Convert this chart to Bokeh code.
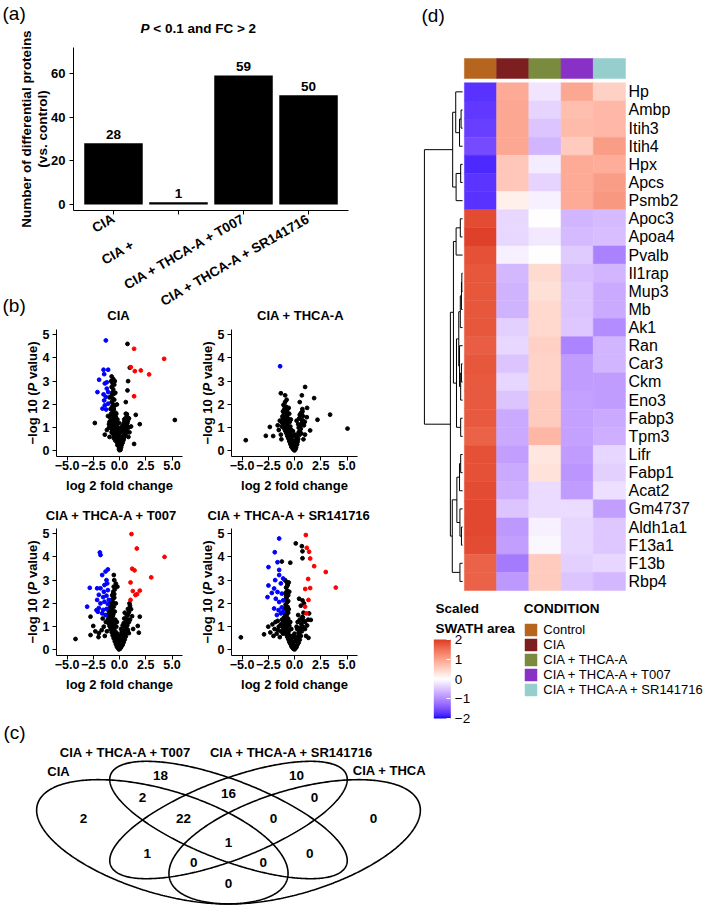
import math
import numpy as np
from bokeh.plotting import figure
from bokeh.models import (Range1d, FixedTicker, Label, LinearColorMapper, ColorBar, Legend, LegendItem,
                          ColumnDataSource, LinearAxis, Grid)
from bokeh.transform import transform
from bokeh.core.properties import value
from bokeh.embed import file_html
from bokeh.resources import INLINE

FONT = "Liberation Sans"

# ---------------- data: panel (a) ----------------
bar_categories = ["CIA", "CIA +", "CIA + THCA-A + T007", "CIA + THCA-A + SR141716"]
bar_counts = [28, 1, 59, 50]

# ---------------- data: panel (b) volcano plots (log2 FC, -log10 P) ----------------
v1_black = [(-0.75,3.2),(-0.6,3.1),(-0.8,3.0),(-0.65,2.9),(-0.5,2.85),(-0.75,2.75),(-0.6,2.65),(-0.7,2.5),(-0.55,2.45),
            (-0.8,2.35),(-0.65,2.25),(-0.5,2.2),(-0.75,2.1),(-0.6,2.0),(-0.45,1.95),(-0.7,1.9),(-0.85,1.8),(-0.55,1.8),
            (-0.65,1.7),(-0.4,1.65),(-0.8,1.6),(-0.5,1.55),(-0.6,1.5),(-0.9,1.45),(-0.35,1.45),(-0.7,1.4),(-0.45,1.35),
            (-0.55,1.3),(-0.95,1.25),(-0.3,1.25),(-0.65,1.2),(-0.4,1.15),(-0.8,1.1),(-0.5,1.05),(-0.25,1.05),(-1.0,1.0),
            (-0.6,0.95),(-0.35,0.95),(-0.5,0.85),(-0.2,0.85),(-0.75,0.8),(-0.35,0.75),(-0.15,0.7),(-0.55,0.7),(-0.45,0.6),
            (-0.25,0.6),(-0.05,0.55),(-0.35,0.5),(-0.15,0.45),(0.0,0.4),(-0.25,0.38),(-0.1,0.3),(0.05,0.25),(-0.2,0.25),
            (-0.05,0.18),(0.05,0.12),(-0.05,0.08),(0.0,0.03),(0.1,0.05),(0.15,0.15),(0.2,0.25),(0.3,0.35),(0.25,0.45),
            (0.4,0.5),(0.35,0.62),(0.5,0.7),(0.45,0.85),(0.6,0.9),(0.55,1.0),(0.7,1.1),(0.5,1.15),(0.65,1.25),(0.8,1.3),
            (0.55,1.4),(0.75,1.45),(0.6,1.6),(-0.3,1.0),(-0.1,0.85),(0.1,0.6),(0.0,0.75),(0.25,0.8),(-1.2,0.9),(-1.4,0.7),
            (-0.95,0.6),(-1.1,1.5),(-0.05,1.2),(0.3,1.1),(-0.3,1.6),(-0.25,2.0),(-0.95,2.3),(-0.4,2.5),(-0.45,3.0),
            (-0.6,1.0),(-0.7,0.9),(-0.45,0.8),(-0.3,0.55),(-0.4,0.45),(-0.55,0.55),(0.15,0.35),(0.35,0.45),(0.45,0.6),
            (0.6,0.75),(0.7,0.85),(0.2,0.55),(-0.1,0.65),(0.05,0.35),(-0.2,0.4),(0.5,0.95),(0.65,1.05),(0.4,1.2),
            (0.75,1.2),(-0.85,1.3),(-0.5,1.4),(-0.2,1.35),(0.1,1.0),(-0.65,0.75),(0.3,0.9),(0.85,1.0),(0.9,1.4),
            (-0.05,0.95),(0.45,1.35),(-1.0,1.15),
            (0.76,4.6),(0.98,3.58),(0.82,3.0),(0.76,2.6),(0.6,2.1),(0.7,1.58),(1.55,1.55),(1.93,1.15),(5.27,1.33),
            (1.39,0.3),(-2.35,1.2),(0.95,0.8),(1.1,1.05),(0.85,0.6)]
v1_blue = [(-1.3,4.75),(-1.52,3.49),(-1.08,3.49),(-1.94,3.06),(-1.46,3.3),(-1.4,2.9),(-2.1,2.53),(-1.21,2.68),
           (-1.08,2.53),(-1.3,2.32),(-1.46,2.17),(-1.4,1.96),(-1.62,1.82),(-1.21,2.95),(-1.52,2.43),(-1.08,2.03),
           (-1.27,1.78)]
v1_red = [(1.39,4.39),(1.08,3.6),(1.46,3.43),(2.03,3.46),(2.82,3.29),(4.25,3.96),(1.39,2.35)]

v2_black = [(0.0,0.02),(-0.1,0.06),(0.1,0.08),(-0.2,0.12),(0.15,0.15),(-0.3,0.18),(0.05,0.2),(-0.15,0.25),(0.25,0.28),
            (-0.4,0.3),(-0.25,0.35),(0.3,0.4),(-0.5,0.42),(-0.35,0.48),(0.35,0.52),(-0.6,0.55),(-0.45,0.6),(0.2,0.62),
            (-0.7,0.65),(0.45,0.68),(-0.55,0.72),(-0.8,0.78),(-0.65,0.82),(0.5,0.85),(-0.9,0.88),(-0.75,0.92),(0.6,0.95),
            (-1.0,0.98),(-0.85,1.02),(-0.6,1.05),(0.55,1.08),(-1.1,1.1),(-0.95,1.15),(-0.7,1.18),(0.7,1.2),(-1.2,1.22),
            (-0.8,1.28),(-1.05,1.32),(0.65,1.35),(-0.9,1.4),(-0.65,1.42),(-1.15,1.48),(0.8,1.5),(-0.75,1.52),(-1.0,1.58),
            (-0.85,1.65),(0.6,1.62),(-1.1,1.7),(-0.7,1.75),(-0.95,1.82),(0.75,1.8),(-0.8,1.9),(-1.05,1.98),(-0.9,2.1),
            (-0.75,2.2),(-1.3,2.48),(-0.89,2.39),(-1.4,1.3),(-1.5,0.9),(-1.3,0.7),(-1.6,1.1),(-1.25,0.5),(-0.45,1.25),
            (-0.3,0.9),(-0.2,0.65),(0.1,0.45),(0.3,0.7),(0.4,1.0),(0.9,1.1),(1.0,0.7),(0.85,0.5),(-0.5,1.6),(-0.35,1.35),
            (0.2,1.3),(1.2,1.85),(0.5,1.55),
            (-0.5,0.5),(-0.6,0.7),(-0.8,0.95),(-0.95,1.25),(-1.1,1.4),(-0.7,1.35),(-0.4,0.75),(-0.2,0.45),(0.0,0.35),
            (0.15,0.6),(0.25,0.5),(0.4,0.8),(0.55,0.95),(-0.3,0.55),(-0.55,0.95),(-0.85,1.15),(-1.0,1.25),(-0.6,1.3),
            (-0.9,1.6),(-0.55,1.85),(0.65,0.75),(0.8,1.3),(0.35,1.15),(-0.15,0.85),(0.05,0.7),(-0.4,1.05),(-1.2,1.05),
            (-0.75,1.65),(0.45,1.4),(0.7,1.65),
            (-4.64,0.46),(-2.73,0.65),(-2.35,1.03),(-2.03,0.64),(0.7,2.39),(1.01,2.75),(1.87,2.27),(2.19,1.34),
            (3.39,1.56),(5.05,0.96),(1.49,0.88),(0.5,2.1),(0.76,1.7),(0.98,1.25),(1.17,1.45)]
v2_blue = [(-1.37,3.64)]
v2_red = []

v3_black = [(-0.05,0.02),(0.05,0.05),(-0.15,0.08),(0.12,0.1),(-0.25,0.14),(0.2,0.16),(-0.1,0.2),(0.3,0.22),(-0.35,0.25),
            (0.1,0.28),(-0.2,0.32),(0.4,0.33),(-0.45,0.37),(0.25,0.4),(-0.3,0.44),(0.5,0.45),(-0.55,0.5),(0.35,0.52),
            (-0.4,0.57),(0.6,0.58),(-0.65,0.62),(0.45,0.65),(-0.5,0.7),(0.7,0.72),(-0.75,0.76),(0.55,0.8),(-0.6,0.84),
            (0.8,0.86),(-0.85,0.9),(0.65,0.95),(-0.7,0.98),(-0.95,1.03),(0.75,1.06),(-0.8,1.1),(-1.05,1.15),(0.6,1.18),
            (-0.9,1.22),(-0.65,1.26),(0.85,1.3),(-1.1,1.32),(-0.75,1.38),(-0.95,1.45),(0.7,1.48),(-0.6,1.52),(-0.85,1.58),
            (0.9,1.62),(-1.0,1.66),(-0.7,1.72),(0.8,1.76),(-0.9,1.82),(-0.55,1.86),(1.0,1.9),(-0.8,1.95),(-0.65,2.05),
            (0.95,2.0),(-0.75,2.15),(-0.5,2.25),(-0.7,2.35),(-0.6,2.5),(-0.45,2.6),(-0.55,2.72),(-0.35,2.85),(-0.5,3.0),
            (-0.54,3.22),(-0.2,2.72),(-1.3,1.2),(-1.5,1.0),(-1.2,0.8),(-1.7,0.85),(-1.4,0.6),(-2.0,0.55),(-1.6,1.35),
            (-0.3,1.0),(-0.2,0.7),(0.0,0.5),(0.2,0.75),(0.3,1.05),(-0.4,1.3),(0.45,1.35),(0.5,1.6),(1.1,1.75),(1.2,1.45),
            (1.0,1.3),
            (-0.4,0.8),(-0.55,0.95),(-0.7,1.15),(-0.85,1.35),(-0.3,0.6),(-0.15,0.4),(0.1,0.45),(0.2,0.6),(0.35,0.8),
            (0.5,0.95),(0.6,1.1),(0.7,1.3),(-0.5,1.1),(-0.65,1.45),(-0.8,1.7),(-0.45,1.65),(-0.35,2.0),(-0.6,2.2),
            (-0.5,2.4),(0.0,0.25),(-0.05,0.6),(0.3,0.5),(0.8,1.5),(0.9,1.2),(-1.0,1.2),(-1.2,1.5),(-0.25,1.2),
            (0.15,0.9),(0.4,1.15),(-0.9,2.0),
            (-4.19,0.47),(-2.76,1.43),(-2.76,0.64),(-2.5,1.03),(-1.97,0.72),(1.93,1.43),(1.74,1.03),(0.89,0.72),
            (1.84,0.74),(-2.3,0.8),(1.3,0.9)]
v3_blue = [(-1.87,4.19),(-1.81,4.08),(-3.08,1.86),(-2.83,2.67),(-1.11,3.46),(-1.33,3.37),(-1.65,3.22),(-1.24,3.0),
           (-2.13,2.65),(-1.81,2.65),(-1.49,2.5),(-1.11,2.57),(-1.97,2.37),(-1.56,2.27),(-1.24,2.33),(-2.13,2.15),
           (-1.81,2.0),(-1.43,2.07),(-1.11,1.97),(-1.97,1.8),(-1.56,1.72),(-1.24,1.76),(-2.06,1.64),(-1.65,1.57),
           (-1.02,2.15),(-1.17,2.86),(-1.43,2.79),(-2.19,1.71),(-1.33,1.5)]
v3_red = [(1.14,4.98),(1.65,4.36),(1.21,3.49),(1.43,3.42),(1.05,2.9),(3.02,3.12),(4.29,4.0),(1.27,2.53),(1.93,2.55),
          (1.52,2.36),(1.68,2.4),(1.05,2.15)]

v4_black = [(0.0,0.02),(-0.1,0.05),(0.1,0.07),(-0.2,0.1),(0.2,0.13),(-0.3,0.16),(0.05,0.18),(-0.15,0.22),(0.3,0.24),
            (-0.4,0.27),(-0.25,0.3),(0.4,0.32),(-0.5,0.35),(0.15,0.38),(-0.35,0.42),(0.5,0.44),(-0.6,0.47),(-0.45,0.52),
            (0.35,0.55),(-0.7,0.57),(0.6,0.6),(-0.55,0.64),(-0.8,0.68),(0.45,0.7),(-0.65,0.74),(-0.9,0.78),(0.7,0.8),
            (-0.75,0.84),(-1.0,0.86),(0.55,0.9),(-0.85,0.94),(-1.1,0.96),(0.8,1.0),(-0.95,1.04),(-1.2,1.06),(-0.7,1.1),
            (0.65,1.12),(-1.05,1.16),(-0.8,1.22),(0.9,1.25),(-0.9,1.3),(-0.6,1.34),(-1.0,1.4),(0.75,1.42),(-0.75,1.48),
            (-0.9,1.55),(-0.6,1.6),(-0.8,1.7),(-0.95,1.78),(-0.65,1.85),(-0.85,1.95),(-0.7,2.05),(-0.9,2.15),(-0.75,2.25),
            (-0.6,2.35),(-0.85,2.45),(-0.7,2.55),(-0.8,2.68),(-0.65,2.8),(-0.75,2.92),(-0.9,3.0),(-1.3,0.8),(-1.5,1.0),
            (-1.7,0.7),(-1.9,0.9),(-2.1,1.1),(-2.3,0.75),(-1.6,1.25),(-1.4,0.55),(-2.5,1.0),(-2.0,0.6),(-1.2,1.3),
            (-0.3,0.9),(-0.2,0.6),(0.0,0.55),(0.25,0.9),(0.3,1.2),(-0.4,1.2),(0.5,1.3),(1.0,0.9),(1.2,1.05),(1.1,0.6),
            (0.85,1.6),(0.6,1.9),(1.3,1.3),
            (-0.4,0.6),(-0.55,0.8),(-0.7,0.95),(-0.85,1.15),(-1.0,1.2),(-0.3,0.5),(-0.1,0.35),(0.1,0.4),(0.25,0.55),
            (0.4,0.75),(0.5,0.95),(0.65,1.3),(-0.5,1.05),(-0.65,1.25),(-0.75,1.6),(-0.55,1.75),(-0.6,2.1),(-0.5,2.5),
            (-0.55,2.9),(0.0,0.7),(0.2,1.0),(0.35,1.5),(-1.3,1.1),(-1.1,0.7),(-1.6,0.85),(-1.8,1.2),(-0.8,2.3),
            (-0.7,2.75),(0.8,1.4),(1.0,1.2),
            (0.12,4.58),(0.7,4.46),(0.76,4.24),(0.76,3.94),(-1.21,3.8),(-5.11,0.54),(-2.9,0.67),(0.44,2.2),(0.76,2.13),
            (0.9,2.0),(1.39,1.57),(1.55,1.29),(1.33,0.52),(-0.4,3.75)]
v4_blue = [(-1.46,4.79),(-1.88,4.2),(-2.48,3.56),(-1.62,3.77),(-1.46,3.44),(-1.84,3.0),(-2.48,2.77),(-2.57,2.27),
           (-1.94,2.64),(-1.62,2.49),(-1.3,2.86),(-1.21,2.42),(-1.78,2.2),(-1.46,2.06),(-1.08,2.13),(-1.94,1.78),
           (-1.52,1.71),(-1.21,1.83),(-1.68,1.5),(-1.3,1.57),(-1.08,1.64),(-2.16,2.45),(-1.46,3.22),(-1.08,3.07)]
v4_red = [(1.08,4.94),(1.17,4.39),(1.39,4.22),(1.49,3.93),(1.87,3.6),(2.98,3.35),(3.93,2.68),(1.3,3.05),(1.49,2.66),
          (1.02,2.62),(1.33,2.15),(1.01,1.86),(1.14,1.57)]

# ---------------- data: panel (c) Venn ----------------
venn_sets = ["CIA", "CIA + THCA-A + T007", "CIA + THCA-A + SR141716", "CIA + THCA"]
venn_counts = [2, 18, 10, 0, 2, 16, 0, 22, 0, 1, 1, 0, 0, 0, 0]

# ---------------- data: panel (d) heatmap ----------------
genes = ["Hp", "Ambp", "Itih3", "Itih4", "Hpx", "Apcs", "Psmb2", "Apoc3", "Apoa4", "Pvalb", "Il1rap", "Mup3", "Mb",
         "Ak1", "Ran", "Car3", "Ckm", "Eno3", "Fabp3", "Tpm3", "Lifr", "Fabp1", "Acat2", "Gm4737", "Aldh1a1",
         "F13a1", "F13b", "Rbp4"]
conditions = ["Control", "CIA", "CIA + THCA-A", "CIA + THCA-A + T007", "CIA + THCA-A + SR141716"]
condition_colors = ["#B5651D", "#7D1E20", "#7A8B40", "#8930C7", "#96CECD"]
control_vals = [-1.75, -1.7, -1.65, -1.55, -1.8, -1.72, -1.75, 1.85, 1.95, 1.8, 1.75, 1.75, 1.75, 1.75, 1.7, 1.75,
                1.72, 1.72, 1.72, 1.65, 1.8, 1.8, 1.85, 1.88, 1.88, 1.85, 1.65, 1.65]
cia_vals = [0.92, 0.95, 0.95, 0.95, 0.6, 0.6, 0.16, -0.33, -0.33, -0.12, -0.6, -0.65, -0.65, -0.4, -0.33, -0.5,
            -0.35, -0.5, -0.72, -0.72, -0.82, -0.72, -0.68, -0.5, -0.88, -0.82, -1.15, -0.88]
thca_vals = [-0.23, -0.37, -0.5, -0.63, -0.17, -0.37, -0.12, 0.0, -0.2, 0.0, 0.4, 0.33, 0.42, 0.42, 0.5, 0.47,
             0.47, 0.55, 0.55, 0.78, 0.25, 0.3, -0.3, -0.3, -0.12, -0.07, 0.55, 0.55]
t007_vals = [0.95, 0.7, 0.72, 0.55, 0.92, 0.92, 0.92, -0.63, -0.58, -0.45, -0.55, -0.5, -0.5, -0.47, -1.05, -0.85,
             -0.85, -0.8, -0.8, -0.8, -0.85, -0.9, -0.85, -0.3, -0.35, -0.35, -0.4, -0.5]
sr_vals = [0.49, 0.75, 0.75, 1.05, 0.88, 1.05, 1.1, -0.58, -0.55, -1.09, -0.63, -0.72, -0.72, -1.0, -0.63, -0.63,
           -0.85, -0.85, -0.72, -0.68, -0.35, -0.4, -0.28, -0.82, -0.47, -0.47, -0.35, -0.6]
# row dendrogram (scipy-style linkage: leaves 0..27, merge k gets id 28+k; height relative to root)
dendro_merges = [(1, 2, 0.04), (28, 3, 0.08), (0, 29, 0.18), (4, 5, 0.05), (31, 6, 0.17), (30, 32, 0.26),
                 (7, 8, 0.06), (34, 9, 0.17), (10, 11, 0.02), (36, 12, 0.03), (37, 13, 0.06), (15, 16, 0.03),
                 (39, 17, 0.05), (14, 40, 0.08), (38, 41, 0.10), (18, 19, 0.05), (42, 43, 0.16), (35, 44, 0.24),
                 (20, 21, 0.05), (46, 22, 0.08), (24, 25, 0.03), (23, 48, 0.07), (47, 49, 0.15), (26, 27, 0.07),
                 (50, 51, 0.27), (45, 52, 0.32), (33, 53, 1.0)]

# ---------------- one canvas; default range = page pixels, each panel has its own scales ----------------
W, H = 706, 906
X0, Y0 = 0, 0


def xr(px0, v0, px1, v1):
    s = (v1 - v0) / (px1 - px0)
    return Range1d(v0 + (X0 - px0) * s, v0 + (X0 + W - px0) * s)


def yr(py0, v0, py1, v1):
    s = (v1 - v0) / (py1 - py0)
    return Range1d(v0 + (Y0 + H - py0) * s, v0 + (Y0 - py0) * s)


p = figure(width=W, height=H, x_range=Range1d(X0, X0 + W), y_range=Range1d(Y0 + H, Y0),
           x_axis_location=None, y_axis_location=None, output_backend="svg", toolbar_location=None,
           min_border_left=0, min_border_right=0, min_border_top=0, min_border_bottom=0)
p.outline_line_color = None
p.background_fill_color = "white"
p.border_fill_color = "white"
for r in list(p.center) + list(p.renderers):
    if isinstance(r, Grid):
        r.visible = False
p.xgrid.visible = False
p.ygrid.visible = False

VOLC = {"v1": (56, 182, 329, 456), "v2": (231, 357, 329, 456), "v3": (56, 182, 528, 655), "v4": (231, 357, 528, 655)}
p.extra_x_ranges = {"ax": xr(73, 0.385, 348, 4.615), "dx": xr(463.9, 0.0, 625.0, 5.0), "cx": xr(228, 0.5, 669, 1.5)}
p.extra_y_ranges = {"ay": yr(210, -2.75, 47, 71.85), "dy": yr(82.3, 0.0, 590.0, 28.0),
                    "cy": yr(819.5, 0.57, 601.5, 1.57)}
for k, (l, r, t, b) in VOLC.items():
    p.extra_x_ranges[k + "x"] = xr(l, -6.0, r, 6.0)
    p.extra_y_ranges[k + "y"] = yr(b, -0.24, t, 5.22)


def add_axis(side, xname, yname, loc, bounds, ticks, overrides=None, size="12.5px", standoff=3,
             style="bold", orientation=None, line_color="black", tick_color="black"):
    ax = LinearAxis(x_range_name=xname, y_range_name=yname, fixed_location=loc, bounds=bounds,
                    ticker=FixedTicker(ticks=ticks))
    ax.axis_line_color = line_color
    ax.axis_line_width = 1
    ax.major_tick_line_color = tick_color
    ax.major_tick_out = 4 if tick_color else 0
    ax.major_tick_in = 0
    ax.minor_tick_line_color = None
    ax.major_label_text_font = FONT
    ax.major_label_text_font_style = style
    ax.major_label_text_font_size = size
    ax.major_label_text_color = "black"
    ax.major_label_standoff = standoff
    if overrides:
        ax.major_label_overrides = overrides
    if orientation is not None:
        ax.major_label_orientation = orientation
    p.add_layout(ax, side)
    return ax


def label(x, y, text, size="13px", style="bold", align="left", baseline="middle", angle=0.0):
    p.add_layout(Label(x=x, y=y, text=text, text_font=FONT, text_font_size=size, text_font_style=style,
                       text_align=align, text_baseline=baseline, angle=angle, text_color="black"))


# ---------------- panel (a) ----------------
bar_x = list(range(1, len(bar_counts) + 1))
p.vbar(x=bar_x, top=bar_counts, width=0.9, fill_color="black", line_color=None,
       x_range_name="ax", y_range_name="ay")
p.text(x=bar_x, y=bar_counts, text=[str(c) for c in bar_counts], text_align="center",
       text_baseline="alphabetic", y_offset=-9, text_font=value(FONT), text_font_size=value("13.5px"),
       text_font_style="bold", text_color="black", x_range_name="ax", y_range_name="ay")
ov = {x: c for x, c in zip(bar_x, bar_categories)}
ov[2] = bar_categories[1] + "\u00a0" * 14
add_axis("below", "ax", "ay", -2.75, (0.385, 4.615), bar_x, ov, "13.5px", 3, orientation=math.pi / 6)
add_axis("left", "ax", "ay", 0.385, (-2.75, 71.85), [0, 20, 40, 60], None, "13px", 4)
label(25.7, 128.5, "Number of differential proteins", "13.5px", "bold", "center", "middle", math.pi / 2)
label(41.7, 128.5, "(vs. control)", "13.5px", "bold", "center", "middle", math.pi / 2)
label(2, 13, "(a)", "19px", "normal")
label(140, 28, "P", "13.5px", "bold italic")
label(152.8, 28, "< 0.1 and FC > 2", "13.5px", "bold")

# ---------------- panel (b) ----------------
label(2, 305, "(b)", "19px", "normal")
volc_data = {"v1": (v1_black, v1_blue, v1_red), "v2": (v2_black, v2_blue, v2_red),
             "v3": (v3_black, v3_blue, v3_red), "v4": (v4_black, v4_blue, v4_red)}
for k, (l, r, t, b) in VOLC.items():
    for pts, col in zip(volc_data[k], ("black", "blue", "red")):
        if pts:
            p.scatter([q[0] for q in pts], [q[1] for q in pts], size=3.8, color=col,
                      x_range_name=k + "x", y_range_name=k + "y")
    add_axis("below", k + "x", k + "y", -0.24, (-6, 6), [-5, -2.5, 0, 2.5, 5],
             {-5: "\u22125.0", -2.5: "\u22122.5", 0: "0.0", 2.5: "2.5", 5: "5.0"}, "12.5px", 0)
    add_axis("left", k + "x", k + "y", -6, (-0.24, 5.22), [0, 1, 2, 3, 4, 5], None, "12.5px", 3)
    cxm, cym = (l + r) / 2, (t + b) / 2
    label(cxm, b + 29, "log 2 fold change", "13px", "bold", "center")
    ylx = l - 24.3
    y_start = cym + 51.5
    label(ylx, y_start, "\u2212log 10 (", "13px", "bold", "left", "middle", math.pi / 2)
    label(ylx, y_start - 53.1, "P", "13px", "bold italic", "left", "middle", math.pi / 2)
    label(ylx, y_start - 65.4, "value)", "13px", "bold", "left", "middle", math.pi / 2)
label(118, 315, "CIA", "13px", "bold", "center")
label(300, 315, "CIA + THCA-A", "13px", "bold", "center")
label(111, 515, "CIA + THCA-A + T007", "13px", "bold", "center")
label(207, 515, "CIA + THCA-A + SR141716", "13px", "bold", "left")


# ---------------- panel (d) heatmap ----------------
def srgb_to_lab(hexc):
    rgb = [int(hexc[i:i + 2], 16) / 255 for i in (1, 3, 5)]
    lin = [c / 12.92 if c <= 0.04045 else ((c + 0.055) / 1.055) ** 2.4 for c in rgb]
    X = 0.4124564 * lin[0] + 0.3575761 * lin[1] + 0.1804375 * lin[2]
    Y = 0.2126729 * lin[0] + 0.7151522 * lin[1] + 0.0721750 * lin[2]
    Z = 0.0193339 * lin[0] + 0.1191920 * lin[1] + 0.9503041 * lin[2]
    f = lambda t: t ** (1 / 3) if t > 216 / 24389 else (24389 / 27 * t + 16) / 116
    fx, fy, fz = f(X / 0.95047), f(Y), f(Z / 1.08883)
    return (116 * fy - 16, 500 * (fx - fy), 200 * (fy - fz))


def lab_to_hex(L, a, b):
    fy = (L + 16) / 116
    fx, fz = fy + a / 500, fy - b / 200
    finv = lambda t: t ** 3 if t ** 3 > 216 / 24389 else (116 * t - 16) / (24389 / 27)
    X, Y, Z = 0.95047 * finv(fx), finv(fy), 1.08883 * finv(fz)
    r = 3.2404542 * X - 1.5371385 * Y - 0.4985314 * Z
    g = -0.9692660 * X + 1.8760108 * Y + 0.0415560 * Z
    bb = 0.0556434 * X - 0.2040259 * Y + 1.0572252 * Z
    gam = lambda c: 12.92 * c if c <= 0.0031308 else 1.055 * c ** (1 / 2.4) - 0.055
    out = [min(255, max(0, round(gam(min(1, max(0, c))) * 255))) for c in (r, g, bb)]
    return "#%02x%02x%02x" % tuple(out)


lab_lo, lab_mid, lab_hi = srgb_to_lab("#0000ff"), srgb_to_lab("#ffffff"), srgb_to_lab("#dd3a24")
palette = []
for k in range(256):
    t = k / 255 * 2 - 1
    a0, a1, u = (lab_lo, lab_mid, t + 1) if t < 0 else (lab_mid, lab_hi, t)
    palette.append(lab_to_hex(*[a0[i] + (a1[i] - a0[i]) * u for i in range(3)]))
mapper = LinearColorMapper(palette=palette, low=-2, high=2)

columns = [control_vals, cia_vals, thca_vals, t007_vals, sr_vals]
hx, hy, hv = [], [], []
for j, col in enumerate(columns):
    for i, v in enumerate(col):
        hx.append(j + 0.5)
        hy.append(i + 0.5)
        hv.append(v)
src = ColumnDataSource(dict(x=hx, y=hy, v=hv))
p.rect(x="x", y="y", width=1, height=1, source=src, fill_color=transform("v", mapper),
       line_color=transform("v", mapper), line_width=0.5, x_range_name="dx", y_range_name="dy")
ann_src = ColumnDataSource(dict(x=[j + 0.5 for j in range(len(conditions))], y=[-0.79] * len(conditions),
                                c=condition_colors))
r_ann = p.rect(x="x", y="y", width=1, height=1.1, source=ann_src, fill_color="c", line_color="c",
               line_width=0.5, x_range_name="dx", y_range_name="dy")

leaf_x, dscale = -0.056, 1.185
node_x = {i: leaf_x for i in range(len(genes))}
node_y = {i: i + 0.5 for i in range(len(genes))}
sx0, sy0, sx1, sy1 = [], [], [], []
for k, (a, b, h) in enumerate(dendro_merges):
    xm = leaf_x - h * dscale
    for c in (a, b):
        sx0.append(xm); sy0.append(node_y[c]); sx1.append(node_x[c]); sy1.append(node_y[c])
    sx0.append(xm); sy0.append(node_y[a]); sx1.append(xm); sy1.append(node_y[b])
    node_x[len(genes) + k] = xm
    node_y[len(genes) + k] = (node_y[a] + node_y[b]) / 2
p.segment(x0=sx0, y0=sy0, x1=sx1, y1=sy1, line_color="black", line_width=1,
          x_range_name="dx", y_range_name="dy")

add_axis("right", "dx", "dy", 5.0, (0, 28), [i + 0.5 for i in range(len(genes))],
         {i + 0.5: g for i, g in enumerate(genes)}, "16px", 3, style="normal", line_color=None, tick_color=None)

label(421, 15, "(d)", "19px", "normal")
label(435, 608, "Scaled", "13.5px", "bold")
label(435, 628, "SWATH area", "13.5px", "bold")
label(523.3, 608, "CONDITION", "13.5px", "bold")

cb = ColorBar(color_mapper=mapper, location=(433.3 - X0, Y0 + H - 718), width=17, height=79, padding=0,
              ticker=FixedTicker(ticks=[-2, -1, 0, 1, 2]),
              major_label_overrides={-2: "\u22122", -1: "\u22121", 0: "0", 1: "1", 2: "2"},
              major_label_text_font=FONT, major_label_text_font_size="13.5px", major_label_text_color="black",
              label_standoff=4, major_tick_line_color="white", major_tick_in=4, major_tick_out=0,
              minor_tick_line_color=None, bar_line_color=None, background_fill_alpha=0, border_line_color=None,
              title=None)
p.add_layout(cb)
legend = Legend(items=[LegendItem(label=c, renderers=[r_ann], index=i) for i, c in enumerate(conditions)],
                location=(523.3 - X0, Y0 + H - 696.5), orientation="vertical", glyph_width=15, glyph_height=15,
                label_text_font=FONT, label_text_font_size="13px", label_text_color="black", label_height=15,
                label_standoff=5, spacing=0, padding=0, margin=0, border_line_color=None, background_fill_alpha=0)
p.add_layout(legend)

# ---------------- panel (c) Venn ----------------
ellipses = [(0.35, 0.47, 0.35, 0.20, -45), (0.50, 0.57, 0.35, 0.15, -45),
            (0.50, 0.57, 0.35, 0.15, 45), (0.65, 0.47, 0.35, 0.20, 45)]
tt = np.linspace(0, 2 * np.pi, 361)
for cx, cy, ea, eb, ang in ellipses:
    th = math.radians(ang)
    ex = cx + ea * np.cos(tt) * math.cos(th) - eb * np.sin(tt) * math.sin(th)
    ey = cy + ea * np.cos(tt) * math.sin(th) + eb * np.sin(tt) * math.cos(th)
    p.line(ex, ey, line_color="black", line_width=1.6, x_range_name="cx", y_range_name="cy")
count_pos = [(0.171, 0.577), (0.346, 0.774), (0.654, 0.774), (0.829, 0.577), (0.305, 0.673), (0.5, 0.692),
             (0.695, 0.673), (0.398, 0.577), (0.602, 0.577), (0.5, 0.467), (0.316, 0.416), (0.684, 0.416),
             (0.421, 0.375), (0.579, 0.375), (0.5, 0.279)]
p.text(x=[q[0] for q in count_pos], y=[q[1] for q in count_pos], text=[str(c) for c in venn_counts],
       text_align="center", text_baseline="middle", text_font=value(FONT), text_font_size=value("13.5px"),
       text_font_style="bold", text_color="black", x_range_name="cx", y_range_name="cy")
set_pos = [(0.1145, 0.792), (0.2664, 0.880), (0.643, 0.880), (0.865, 0.797)]
p.text(x=[q[0] for q in set_pos], y=[q[1] for q in set_pos], text=venn_sets,
       text_align="center", text_baseline="middle", text_font=value(FONT), text_font_size=value("13px"),
       text_font_style="bold", text_color="black", x_range_name="cx", y_range_name="cy")
label(3, 732, "(c)", "19px", "normal")

open("out.html", "w").write(file_html(p, INLINE, title="Figure"))
